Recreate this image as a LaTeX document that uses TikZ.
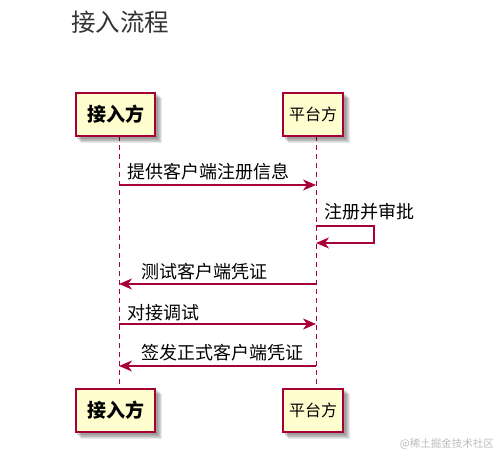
\documentclass[tikz,border=0pt]{standalone}
\usepackage{fontspec}
\setmainfont{Noto Sans CJK SC}
\usetikzlibrary{arrows.meta}
\definecolor{umlred}{HTML}{A80036}
\definecolor{umlfill}{HTML}{FEFECE}
\definecolor{titlegray}{HTML}{333333}
\definecolor{wmgray}{HTML}{BBBBBB}
\tikzset{
  actorbox/.style={draw=umlred, fill=umlfill, line width=1.3pt, inner sep=0pt},
  bigactor/.style={actorbox, minimum width=79pt, minimum height=43pt, font=\fontsize{19}{22}\selectfont\bfseries},
  smallactor/.style={actorbox, minimum width=60pt, minimum height=43pt, font=\fontsize{16}{19}\selectfont},
  lifeline/.style={draw=umlred, line width=1pt, dash pattern=on 5pt off 4pt},
  msg/.style={draw=umlred, line width=1.2pt, -{Stealth[length=13pt,width=11pt,inset=4pt]}},
  msglabel/.style={font=\fontsize{18}{21}\selectfont, inner sep=0pt, anchor=west},
  shadowlayer/.style={fill=black, draw=none, opacity=0.09},
}
\newcommand{\boxshadow}[1]{%
  \foreach \d in {2,3,4,5,6}{%
    \fill[shadowlayer] ([shift={(\d pt,-\d pt)}]#1.north west) rectangle ([shift={(\d pt,-\d pt)}]#1.south east);
  }%
}
\begin{document}
\begin{tikzpicture}[x=1pt,y=-1pt]
\useasboundingbox (0,0) rectangle (498,454);
% title
\node[anchor=west, inner sep=0pt, text=titlegray, font=\fontsize{24.5}{28}\selectfont] (title) at (71,22.5) {接入流程};
% lifeline coordinates
\coordinate (Ltop) at (119,136);
\coordinate (Lbot) at (119,388);
\coordinate (Rtop) at (316,136);
\coordinate (Rbot) at (316,388);
\draw[lifeline] (Ltop) -- (Lbot);
\draw[lifeline] (Rtop) -- (Rbot);
% actor boxes
\path (115.5,114.5) coordinate (ptA);
\path (313,114.5) coordinate (ptB);
\path (115.5,410.5) coordinate (ptC);
\path (313,410.5) coordinate (ptD);
\node[bigactor, draw=none, fill=none] (A0) at (ptA) {\phantom{接入方}};
\node[smallactor, draw=none, fill=none] (B0) at (ptB) {\phantom{平台方}};
\node[bigactor, draw=none, fill=none] (C0) at (ptC) {\phantom{接入方}};
\node[smallactor, draw=none, fill=none] (D0) at (ptD) {\phantom{平台方}};
\boxshadow{A0}\boxshadow{B0}\boxshadow{C0}\boxshadow{D0}
\node[bigactor] (A) at (ptA) {接入方};
\node[smallactor] (B) at (ptB) {平台方};
\node[bigactor] (C) at (ptC) {接入方};
\node[smallactor] (D) at (ptD) {平台方};
% messages
\coordinate (m1a) at (119,185); \coordinate (m1b) at (316,185);
\draw[msg] (m1a) -- (m1b);
\node[msglabel] (t1) at (127,172) {提供客户端注册信息};
% self message
\coordinate (s1) at (316,226); \coordinate (s2) at (374,226);
\coordinate (s3) at (374,243); \coordinate (s4) at (316,243);
\draw[msg] (s1) -- (s2) -- (s3) -- (s4);
\node[msglabel] (t2) at (324,212) {注册并审批};
% back
\coordinate (m3a) at (316,284); \coordinate (m3b) at (119,284);
\draw[msg] (m3a) -- (m3b);
\node[msglabel] (t3) at (141,272) {测试客户端凭证};
\coordinate (m4a) at (119,324); \coordinate (m4b) at (316,324);
\draw[msg] (m4a) -- (m4b);
\node[msglabel] (t4) at (127,313) {对接调试};
\coordinate (m5a) at (316,366); \coordinate (m5b) at (119,366);
\draw[msg] (m5a) -- (m5b);
\node[msglabel] (t5) at (141,353) {签发正式客户端凭证};
% watermark
\node[anchor=east, inner sep=0pt, text=wmgray, font=\fontsize{10.5}{12}\selectfont] (wm) at (494,444) {@稀土掘金技术社区};
\end{tikzpicture}
\end{document}
